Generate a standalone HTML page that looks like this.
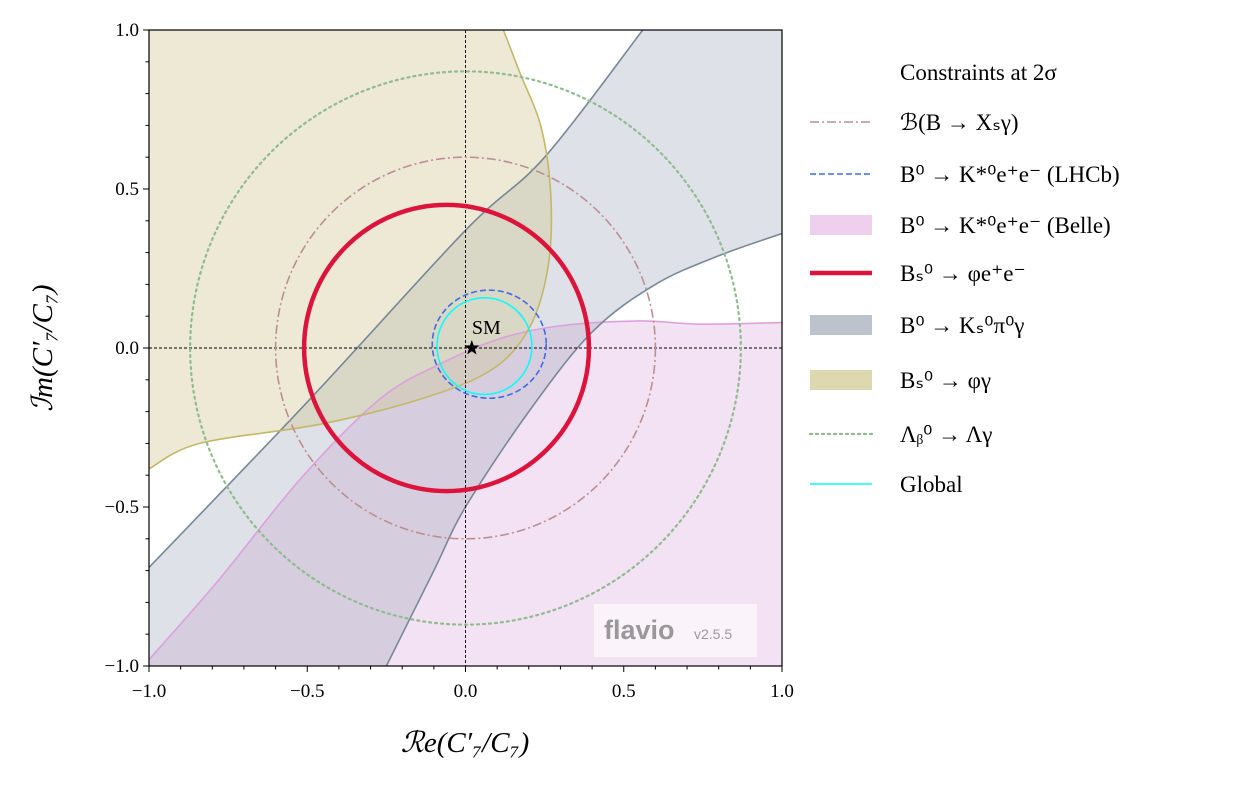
<!DOCTYPE html>
<html><head><meta charset="utf-8">
<style>
body{margin:0;background:#fff;width:1260px;height:784px;overflow:hidden;font-family:"Liberation Serif",serif;}
</style></head>
<body>
<svg id="chart" width="1260" height="784" viewBox="0 0 1260 784" font-family="Liberation Serif, serif">
<defs><clipPath id="pc"><rect x="149" y="30" width="633" height="636"/></clipPath></defs>
<g id="plot" clip-path="url(#pc)"></g>
<g id="axes"></g>
<g id="legend"></g>
</svg>
<script>
const greyUpper=[[-1,-0.69],[-0.5,-0.17],[0,0.37],[0.25,0.6],[0.56,1.0]];
const greyLower=[[-0.25,-1],[-0.1,-0.7],[0,-0.5],[0.2,-0.2],[0.4,0.05],[0.6,0.2],[0.8,0.29],[1,0.36]];
const oliveCurve=[[-1,-0.38],[-0.84,-0.3],[-0.46,-0.24],[-0.14,-0.16],[0.08,-0.07],[0.2,0.06],[0.26,0.25],[0.27,0.47],[0.24,0.69],[0.17,0.87],[0.12,1.0]];
const pinkCurve=[[-1,-0.98],[-0.78,-0.73],[-0.52,-0.41],[-0.27,-0.16],[-0.08,-0.05],[0.11,0.03],[0.3,0.07],[0.55,0.085],[0.74,0.075],[1,0.08]];
// ellipses: cx, cy, rx, ry (data units)
const ellBrown=[0,0,0.6,0.6];
const ellGreen=[0,0,0.87,0.87];
const ellRed=[-0.06,0,0.45,0.45];
const ellBlue=[0.075,0.012,0.18,0.17];
const ellCyan=[0.06,0.006,0.15,0.152];
const smPoint=[0.02,0];
const xTicks=[-1,-0.5,0,0.5,1];
const xTickLabels=["\u22121.0","\u22120.5","0.0","0.5","1.0"];
const yTicks=[-1,-0.5,0,0.5,1];
const yTickLabels=["\u22121.0","\u22120.5","0.0","0.5","1.0"];

const NS="http://www.w3.org/2000/svg";
const X=d=>465.5+316.5*d, Y=d=>348-318*d;
function mk(tag,attrs,parent,text){const e=document.createElementNS(NS,tag);for(const k in attrs)e.setAttribute(k,attrs[k]);if(text!==undefined)e.textContent=text;parent.appendChild(e);return e;}
function smooth(pts){let s="";const p=pts.map(q=>[X(q[0]),Y(q[1])]);s+="M"+p[0][0]+","+p[0][1];
for(let i=0;i<p.length-1;i++){const p0=p[i-1]||p[i],p1=p[i],p2=p[i+1],p3=p[i+2]||p2;
s+=" C"+(p1[0]+(p2[0]-p0[0])/6)+","+(p1[1]+(p2[1]-p0[1])/6)+" "+(p2[0]-(p3[0]-p1[0])/6)+","+(p2[1]-(p3[1]-p1[1])/6)+" "+p2[0]+","+p2[1];}return s;}
const plot=document.getElementById('plot'),axes=document.getElementById('axes'),leg=document.getElementById('legend');

let e=mk('path',{d:smooth(pinkCurve)+" L800,700 L130,700 Z",fill:"#f3e2f3",stroke:"none"},plot);

let lowerRev=greyLower.slice().reverse();
e=mk('path',{d:smooth(greyUpper)+" L800,20 L800,"+Y(0.36)+" "+smooth(lowerRev).replace("M","L")+" L130,700 Z",fill:"rgba(160,170,185,0.35)",stroke:"none"},plot);

e=mk('path',{d:smooth(oliveCurve)+" L130,20 L130,"+Y(-0.38)+" Z",fill:"rgba(210,200,150,0.4)",stroke:"none"},plot);

e=mk('path',{d:smooth(pinkCurve),fill:"none",stroke:"#dda0dd","stroke-width":1.6},plot);

e=mk('path',{d:smooth(greyUpper),fill:"none",stroke:"#778899","stroke-width":1.6},plot);

e=mk('path',{d:smooth(greyLower),fill:"none",stroke:"#778899","stroke-width":1.6},plot);

e=mk('path',{d:smooth(oliveCurve),fill:"none",stroke:"#c4b76a","stroke-width":1.6},plot);

e=mk('line',{x1:X(0),x2:X(0),y1:30,y2:666,stroke:"#000","stroke-width":0.9,"stroke-dasharray":"3,2"},plot);

e=mk('line',{x1:149,x2:782,y1:Y(0),y2:Y(0),stroke:"#000","stroke-width":0.9,"stroke-dasharray":"3,2"},plot);

function ell(p,attrs,name){const a=Object.assign({cx:X(p[0]),cy:Y(p[1]),rx:p[2]*316.5,ry:p[3]*318,fill:"none"},attrs);const el=mk('ellipse',a,plot);}
ell(ellGreen,{stroke:"#8fbc8f","stroke-width":2.2,"stroke-dasharray":"2,4","stroke-linecap":"round"},'lambda-b-contour');
ell(ellBrown,{stroke:"#bc8f8f","stroke-width":1.6,"stroke-dasharray":"9,3,2,3"},'bxsgamma-contour');
ell(ellRed,{stroke:"#dc143c","stroke-width":4.5},'bs-phiee-contour');
ell(ellBlue,{stroke:"#4169e1","stroke-width":1.6,"stroke-dasharray":"6,3"},'lhcb-contour');
ell(ellCyan,{stroke:"#00ffff","stroke-width":1.5},'global-contour');
(function(){const cx=X(smPoint[0]),cy=Y(smPoint[1]);let pts=[];for(let i=0;i<10;i++){const r=i%2?3.2:8,a=-Math.PI/2+i*Math.PI/5;pts.push((cx+r*Math.cos(a)).toFixed(1)+","+(cy+r*Math.sin(a)).toFixed(1));}
e=mk('polygon',{points:pts.join(" "),fill:"#000"},plot);
e=mk('text',{x:cx,y:cy-14,"font-size":20},plot,"SM");})();
e=mk('rect',{x:594,y:604,width:163,height:53,fill:"rgba(255,255,255,0.6)"},plot);
e=mk('text',{x:604,y:639,"font-size":27,"font-weight":"bold",fill:"#999",style:"font-family:'Liberation Sans',sans-serif"},plot,"flavio");
e=mk('text',{x:694,y:639,"font-size":14,fill:"#999",style:"font-family:'Liberation Sans',sans-serif"},plot,"v2.5.5");
e=mk('rect',{x:149,y:30,width:633,height:636,fill:"none",stroke:"#000","stroke-width":1.2},axes);
for(let i=-10;i<=10;i++){const d=i/10,maj=(i%5===0),L=maj?6:3.5;
mk('line',{x1:X(d),x2:X(d),y1:666,y2:666+L,stroke:"#000","stroke-width":1},axes);
mk('line',{x1:149,x2:149-L,y1:Y(d),y2:Y(d),stroke:"#000","stroke-width":1},axes);}
xTicks.forEach((t,i)=>{e=mk('text',{x:X(t),y:697,"font-size":19,"text-anchor":"middle"},axes,xTickLabels[i]);});
yTicks.forEach((t,i)=>{e=mk('text',{x:139,y:Y(t)+6,"font-size":19,"text-anchor":"end"},axes,yTickLabels[i]);});
e=mk('text',{x:465,y:752,"font-size":29,"text-anchor":"middle","font-style":"italic"},axes,"\u211Be(C\u2032\u2087/C\u2087)");
e=mk('text',{x:0,y:0,"font-size":29,"text-anchor":"middle","font-style":"italic",transform:"translate(52,348) rotate(-90)"},axes,"\u2110m(C\u2032\u2087/C\u2087)");
e=mk('text',{x:900,y:80,"font-size":23},leg,"Constraints at 2\u03C3");
const items=[
["\u212C(B \u2192 X\u209B\u03B3)",{type:"line",stroke:"#bc8f8f",w:1.6,dash:"9,3,2,3"}],
["B\u2070 \u2192 K*\u2070e\u207Ae\u207B (LHCb)",{type:"line",stroke:"#4169e1",w:1.6,dash:"6,3"}],
["B\u2070 \u2192 K*\u2070e\u207Ae\u207B (Belle)",{type:"rect",fill:"#eecfee"}],
["B\u209B\u2070 \u2192 \u03C6e\u207Ae\u207B",{type:"line",stroke:"#dc143c",w:4.5}],
["B\u2070 \u2192 K\u209B\u2070\u03C0\u2070\u03B3",{type:"rect",fill:"#bcc3cc"}],
["B\u209B\u2070 \u2192 \u03C6\u03B3",{type:"rect",fill:"#ddd8b0"}],
["\u039B\u1D66\u2070 \u2192 \u039B\u03B3",{type:"line",stroke:"#8fbc8f",w:2.2,dash:"2,4"}],
["Global",{type:"line",stroke:"#00ffff",w:1.5}]];
const ly=[122,174,225,273,325,380,434,484];
items.forEach((it,i)=>{const y=ly[i];const s=it[1];
if(s.type==="line"){e=mk('line',{x1:810,x2:872,y1:y,y2:y,stroke:s.stroke,"stroke-width":s.w,"stroke-dasharray":s.dash||"none","stroke-linecap":s.dash==="2,4"?"round":"butt"},leg);}
else{e=mk('rect',{x:810,y:y-10,width:62,height:20,fill:s.fill},leg);}

e=mk('text',{x:900,y:y+8,"font-size":23},leg,it[0]);});
</script>
</body></html>
